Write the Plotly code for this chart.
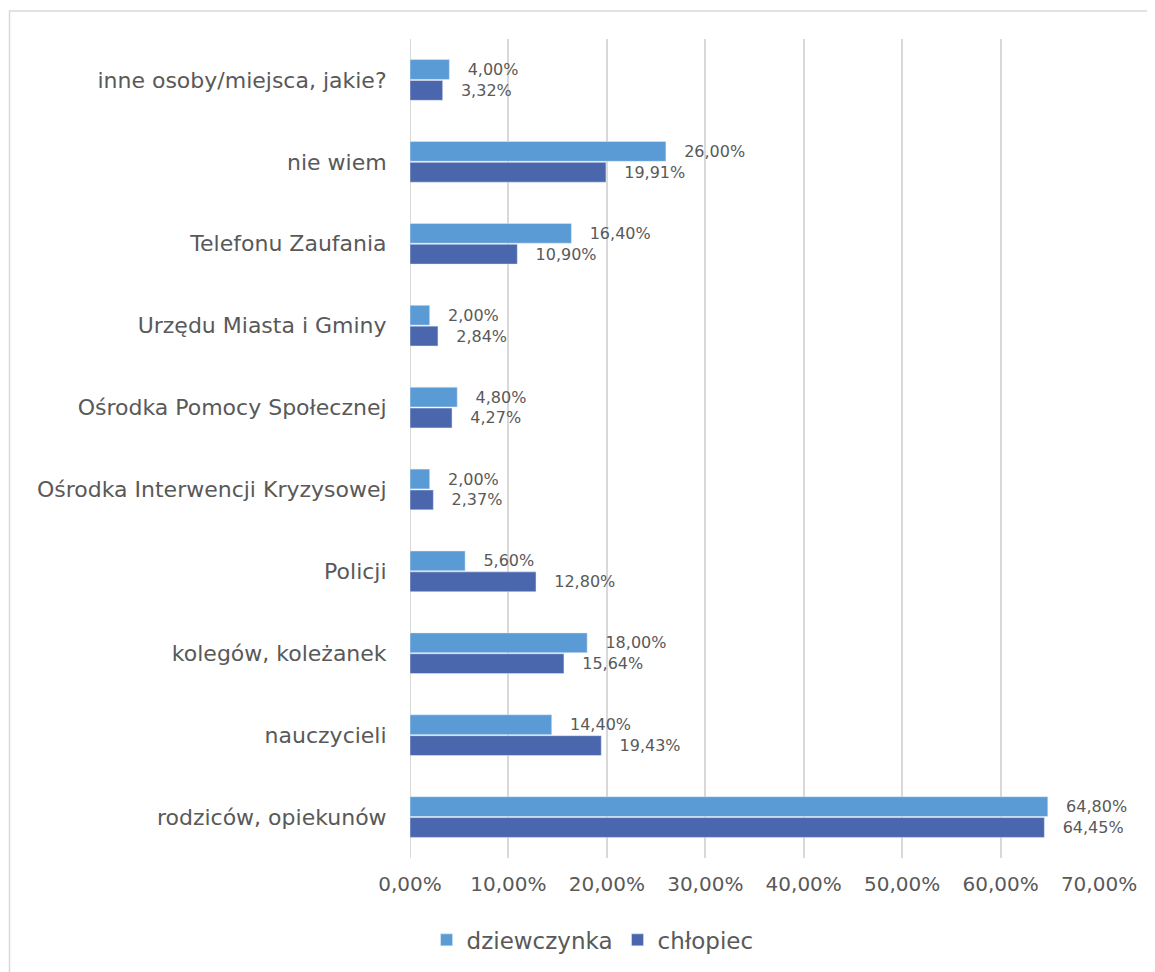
import plotly.graph_objects as go

categories = [
    "inne osoby/miejsca, jakie?",
    "nie wiem",
    "Telefonu Zaufania",
    "Urzędu Miasta i Gminy",
    "Ośrodka Pomocy Społecznej",
    "Ośrodka Interwencji Kryzysowej",
    "Policji",
    "kolegów, koleżanek",
    "nauczycieli",
    "rodziców, opiekunów",
]
dziewczynka = [4.00, 26.00, 16.40, 2.00, 4.80, 2.00, 5.60, 18.00, 14.40, 64.80]
chlopiec = [3.32, 19.91, 10.90, 2.84, 4.27, 2.37, 12.80, 15.64, 19.43, 64.45]
x_ticks = [0, 10, 20, 30, 40, 50, 60, 70]

FONT = "DejaVu Sans"
TXT = "#595959"


def pct(v):
    return f"{v:.2f}".replace(".", ",") + "%"


def fmt(v):
    return "\u00a0\u00a0\u00a0" + pct(v)


fig = go.Figure()
fig.add_trace(go.Bar(
    y=categories, x=dziewczynka, orientation="h", name="dziewczynka",
    marker=dict(color="#5B9BD5"),
    text=[fmt(v) for v in dziewczynka], textposition="outside",
    textfont=dict(size=16, color=TXT, family=FONT), cliponaxis=False,
))
fig.add_trace(go.Bar(
    y=categories, x=chlopiec, orientation="h", name="chłopiec",
    marker=dict(color="#4A66AC"),
    text=[fmt(v) for v in chlopiec], textposition="outside",
    textfont=dict(size=16, color=TXT, family=FONT), cliponaxis=False,
))

fig.update_layout(
    width=1155, height=972,
    margin=dict(l=402, r=64, t=31, b=122),
    paper_bgcolor="white", plot_bgcolor="white",
    barmode="group", bargap=0.49, bargroupgap=0.05,
    font=dict(family=FONT, color=TXT),
    showlegend=True,
    legend=dict(orientation="h", x=0.265, xanchor="center", y=-0.1, yanchor="middle",
                font=dict(size=23, color=TXT, family=FONT)),
    xaxis=dict(range=[0, 70], tickvals=x_ticks, ticktext=[pct(v) for v in x_ticks],
               showgrid=True, gridcolor="#D9D9D9", gridwidth=2, zeroline=False,
               showline=False, tickfont=dict(size=20, color=TXT, family=FONT),
               ticks="outside", ticklen=8, tickcolor="rgba(0,0,0,0)"),
    yaxis=dict(autorange="reversed", showgrid=False, zeroline=False, showline=False,
               tickfont=dict(size=22, color=TXT, family=FONT), ticks="outside",
               ticklen=18, tickcolor="rgba(0,0,0,0)"),
    shapes=[
        dict(type="rect", xref="paper", yref="paper", x0=-0.5813, x1=1.3, y0=-0.3, y1=1.0342,
             line=dict(color="#D9D9D9", width=1.5), fillcolor="rgba(0,0,0,0)", layer="below"),
        dict(type="line", xref="x", yref="paper", x0=0, x1=0, y0=0, y1=1,
             line=dict(color="#D9D9D9", width=2), layer="below"),
    ],
)

fig.write_html("out.html")
